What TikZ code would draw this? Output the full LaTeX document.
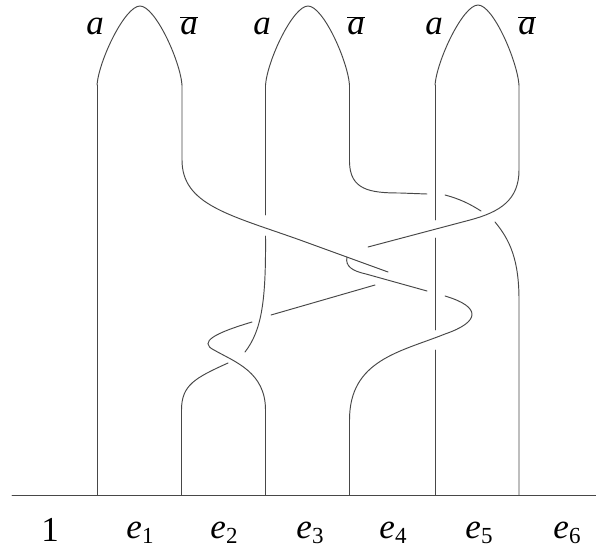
\documentclass[tikz,border=0pt]{standalone}
\usepackage{fontspec}
\setmainfont{Liberation Serif}
\newcommand{\esub}[1]{e\raisebox{-0.17em}{\upshape\fontsize{23}{23}\selectfont #1}}
\begin{document}
\begin{tikzpicture}[x=1pt,y=-1pt,
  strand/.style={draw=black!72, line width=0.95pt, line cap=round},
  lbl/.style={font=\fontsize{35}{35}\selectfont\itshape, inner sep=0pt, anchor=base},
  num/.style={font=\fontsize{35}{35}\selectfont, inner sep=0pt, anchor=base}]
\useasboundingbox (0,0) rectangle (596,551);
\fill[white] (0,0) rectangle (596,551);

% baseline end points
\coordinate (b0) at (12,495);
\coordinate (bE) at (596,495);

% baseline
\draw[strand] (b0) -- (bE);

% arches
\draw[strand] (97,85) .. controls (99,60) and (125,6) .. (140,6)
  .. controls (155,6) and (180,60) .. (182,85);
\draw[strand] (265.5,85) .. controls (267.5,60) and (293,6) .. (308,6)
  .. controls (323,6) and (347.5,60) .. (349.5,85);
\draw[strand] (435,85) .. controls (437,60) and (463,5) .. (478,5)
  .. controls (493,5) and (517,60) .. (519,85);

% strand 1: straight
\draw[strand] (97,85) -- (97,495);

% A1 right leg -> diagonal over strand 3 -> (under hook)
\draw[strand] (182,85) -- (182,160) .. controls (182,205) and (230,215) .. (300,240) -- (388,272);
% S-strand from under hook, under vertical 3, twist, to bottom e3
\draw[strand] (375,285) -- (271,315);
\draw[strand] (252,322) .. controls (215,333) and (198,342) .. (214,350)
  .. controls (235,362) and (265.5,372) .. (265.5,410) -- (265.5,495);

% A2 left leg: vertical, under A1 diagonal, then curving down to bottom e2
\draw[strand] (265.5,85) -- (265.5,215);
\draw[strand] (265.5,236) .. controls (266,300) and (262,330) .. (245,352);
\draw[strand] (228,363) .. controls (195,378) and (181.5,385) .. (181.5,410) -- (181.5,495);

% A2 right leg: to the right, under vertical 5 and under A3 diagonal, to bottom e6
\draw[strand] (349.5,85) -- (349.5,162) .. controls (350,190) and (370,193) .. (400,193) -- (427,194);
\draw[strand] (445,195) .. controls (460,199) and (470,204) .. (481,211);
\draw[strand] (495,222) .. controls (510,240) and (519,260) .. (519,300) -- (519,495);

% A3 right leg: diagonal down-left, over everything, under A1 diagonal
\draw[strand] (519,85) -- (519,170) .. controls (519,200) and (500,212) .. (470,220) -- (368,247);
% hook, under vertical 5, bulge, over vertical 5, down to bottom e4
\draw[strand] (347,257) .. controls (345,266) and (352,271) .. (366,274) -- (427,291);
\draw[strand] (445,296) .. controls (482,307) and (480,322) .. (445,334)
  .. controls (400,352) and (349.5,360) .. (349.5,420) -- (349.5,495);

% A3 left leg: vertical with gaps
\draw[strand] (435,85) -- (435,220);
\draw[strand] (435,238) -- (435,330);
\draw[strand] (435,350) -- (435,495);

% labels top
\node[lbl] (la1) at (95,35) {a};
\node[lbl] (lb1) at (189,35) {$\overline{\hbox{\itshape a}}$};
\node[lbl] (la2) at (262,35) {a};
\node[lbl] (lb2) at (356,35) {$\overline{\hbox{\itshape a}}$};
\node[lbl] (la3) at (434,35) {a};
\node[lbl] (lb3) at (527,35) {$\overline{\hbox{\itshape a}}$};

% labels bottom
\node[num] (n1) at (50,541) {1};
\node[lbl] (e1) at (140,538) {\esub{1}};
\node[lbl] (e2) at (224,538) {\esub{2}};
\node[lbl] (e3) at (310,538) {\esub{3}};
\node[lbl] (e4) at (393,538) {\esub{4}};
\node[lbl] (e5) at (479,538) {\esub{5}};
\node[lbl] (e6) at (567,538) {\esub{6}};
\end{tikzpicture}
\end{document}
